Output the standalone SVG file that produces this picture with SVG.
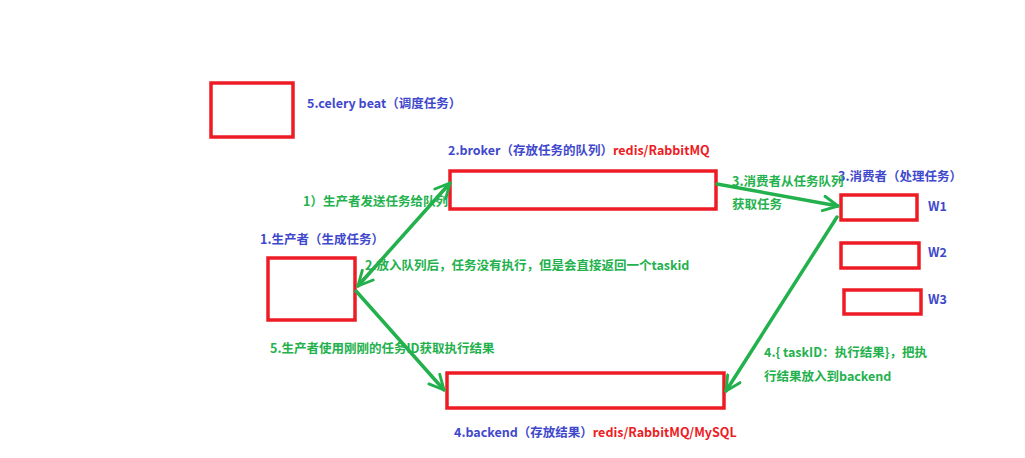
<svg xmlns="http://www.w3.org/2000/svg" width="1025" height="458" viewBox="0 0 1025 458">
<defs>
<style>
.box{fill:#fff;stroke:#ed1c24;stroke-width:3.5}
.t{font-family:"Noto Sans CJK SC","Microsoft YaHei",sans-serif;font-weight:bold;font-size:12.5px}
.b{fill:#3f48cc}
.r{fill:#ed1c24}
.g{fill:#22b14c}
.c{stroke:#22b14c;stroke-width:3.5;fill:none;stroke-linecap:round;stroke-linejoin:round}
</style>
<marker id="ah" viewBox="0 0 12 12" refX="11" refY="6" markerWidth="5" markerHeight="5" orient="auto-start-reverse" markerUnits="strokeWidth">
<path d="M1,1 L11,6 L1,11" fill="none" stroke="#22b14c" stroke-width="2" stroke-linecap="round" stroke-linejoin="round"/>
</marker>
</defs>
<rect width="1025" height="458" fill="#fff"/>
<g id="beat">
<rect class="box" x="211" y="83" width="82" height="54"/>
<text class="t b" x="307" y="108">5.celery beat（调度任务）</text>
</g>
<g id="broker">
<rect class="box" x="450" y="171" width="266" height="38"/>
<text class="t" x="448" y="155"><tspan class="b">2.broker（存放任务的队列）</tspan><tspan class="r">redis/RabbitMQ</tspan></text>
</g>
<g id="producer">
<rect class="box" x="268" y="258" width="87" height="62"/>
<text class="t b" x="260" y="244">1.生产者（生成任务）</text>
</g>
<g id="consumers">
<text class="t b" x="838" y="181">3.消费者（处理任务）</text>
</g>
<g id="w1">
<rect class="box" x="841" y="195" width="76" height="25"/>
<text class="t b" x="928" y="211">W1</text>
</g>
<g id="w2">
<rect class="box" x="841" y="243" width="78" height="25"/>
<text class="t b" x="928" y="257">W2</text>
</g>
<g id="w3">
<rect class="box" x="844" y="290" width="77" height="24"/>
<text class="t b" x="928" y="304">W3</text>
</g>
<g id="backend">
<rect class="box" x="447" y="373" width="277" height="35"/>
<text class="t" x="454" y="437"><tspan class="b">4.backend（存放结果）</tspan><tspan class="r">redis/RabbitMQ/MySQL</tspan></text>
</g>
<g id="connectors">
<line x1="359" y1="283" x2="450" y2="184" stroke="#ed1c24" stroke-width="1.2"/>
<line class="c" x1="358" y1="286" x2="450" y2="183" marker-start="url(#ah)" marker-end="url(#ah)"/>
<line class="c" x1="356" y1="291" x2="444" y2="390" marker-end="url(#ah)"/>
<line class="c" x1="717" y1="184" x2="838" y2="206" marker-end="url(#ah)"/>
<line class="c" x1="837" y1="217" x2="726" y2="391" marker-end="url(#ah)"/>
<text class="t g" x="303" y="206">1）生产者发送任务给队列</text>
<text class="t g" x="365" y="270">2.放入队列后，任务没有执行，但是会直接返回一个taskid</text>
<text class="t g" x="732" y="186">3.消费者从任务队列</text>
<text class="t g" x="732" y="209">获取任务</text>
<text class="t g" x="270" y="353">5.生产者使用刚刚的任务ID获取执行结果</text>
<text class="t g" x="764" y="357">4.{ taskID：执行结果}，把执</text>
<text class="t g" x="764" y="381">行结果放入到backend</text>
</g>
</svg>
